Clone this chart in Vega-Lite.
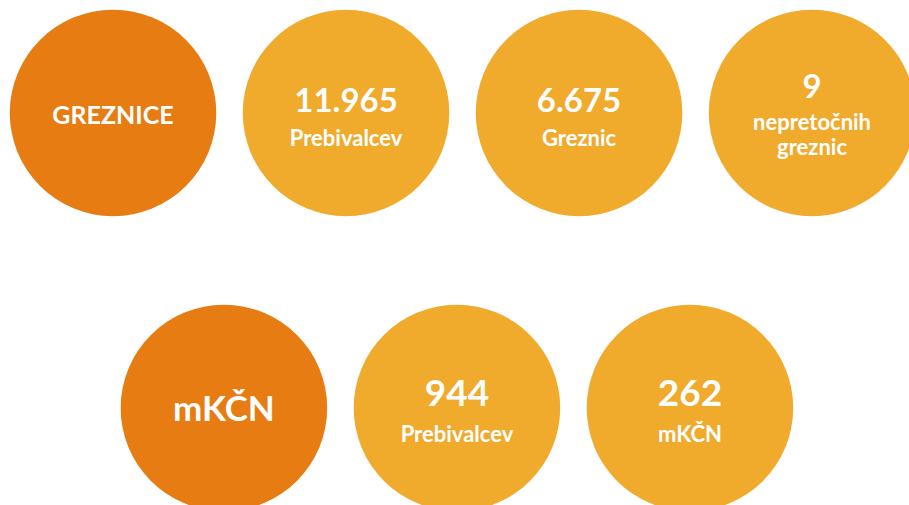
{
  "$schema": "https://vega.github.io/schema/vega-lite/v6.json",
  "width": 909,
  "height": 505,
  "autosize": {"type": "fit", "contains": "padding"},
  "padding": 0,
  "background": "white",
  "config": {"view": {"stroke": null}},
  "data": {
    "values": [
      {"col": 0, "row": 0, "kind": "naslov", "value": "GREZNICE", "label": ""},
      {"col": 1, "row": 0, "kind": "podatek", "value": "11.965", "label": "Prebivalcev"},
      {"col": 2, "row": 0, "kind": "podatek", "value": "6.675", "label": "Greznic"},
      {"col": 3, "row": 0, "kind": "podatek", "value": "9", "label": "nepretočnih\ngreznic"},
      {"col": 0.476, "row": 1, "kind": "naslov", "value": "mKČN", "label": ""},
      {"col": 1.476, "row": 1, "kind": "podatek", "value": "944", "label": "Prebivalcev"},
      {"col": 2.476, "row": 1, "kind": "podatek", "value": "262", "label": "mKČN"}
    ]
  },
  "encoding": {
    "x": {"field": "col", "type": "quantitative", "scale": {"domain": [-0.485, 3.416], "nice": false, "zero": false}, "axis": null},
    "y": {"field": "row", "type": "quantitative", "scale": {"domain": [-0.383, 1.329], "nice": false, "zero": false, "reverse": true}, "axis": null}
  },
  "layer": [
    {
      "mark": {"type": "circle", "size": 42650, "opacity": 1, "clip": true},
      "encoding": {
        "color": {"field": "kind", "type": "nominal", "scale": {"domain": ["naslov", "podatek"], "range": ["#E67C12", "#F0AA2C"]}, "legend": null}
      }
    },
    {
      "transform": [{"filter": "datum.kind == 'naslov' && datum.row == 0"}],
      "mark": {"type": "text", "font": "Lato", "fontWeight": "bold", "fontSize": 25, "color": "white", "baseline": "alphabetic", "dy": 11},
      "encoding": {"text": {"field": "value"}}
    },
    {
      "transform": [{"filter": "datum.kind == 'naslov' && datum.row == 1"}],
      "mark": {"type": "text", "font": "Lato", "fontWeight": "bold", "fontSize": 35, "color": "white", "baseline": "alphabetic", "dy": 13},
      "encoding": {"text": {"field": "value"}}
    },
    {
      "transform": [{"filter": "datum.kind == 'podatek' && datum.row == 0 && indexof(datum.label, '\\n') < 0"}],
      "mark": {"type": "text", "font": "Lato", "fontWeight": "bold", "fontSize": 33, "color": "white", "baseline": "alphabetic", "dy": -1},
      "encoding": {"text": {"field": "value"}}
    },
    {
      "transform": [{"filter": "datum.kind == 'podatek' && datum.row == 0 && indexof(datum.label, '\\n') < 0"}],
      "mark": {"type": "text", "font": "Lato", "fontWeight": "bold", "fontSize": 22, "color": "white", "baseline": "alphabetic", "dy": 33},
      "encoding": {"text": {"field": "label"}}
    },
    {
      "transform": [{"filter": "datum.kind == 'podatek' && indexof(datum.label, '\\n') >= 0"}],
      "mark": {"type": "text", "font": "Lato", "fontWeight": "bold", "fontSize": 33, "color": "white", "baseline": "alphabetic", "dy": -15},
      "encoding": {"text": {"field": "value"}}
    },
    {
      "transform": [{"filter": "datum.kind == 'podatek' && indexof(datum.label, '\\n') >= 0"}],
      "mark": {"type": "text", "font": "Lato", "fontWeight": "bold", "fontSize": 22, "color": "white", "baseline": "alphabetic", "dy": 17, "lineHeight": 25, "lineBreak": "\n"},
      "encoding": {"text": {"field": "label"}}
    },
    {
      "transform": [{"filter": "datum.kind == 'podatek' && datum.row == 1"}],
      "mark": {"type": "text", "font": "Lato", "fontWeight": "bold", "fontSize": 37, "color": "white", "baseline": "alphabetic", "dy": -2},
      "encoding": {"text": {"field": "value"}}
    },
    {
      "transform": [{"filter": "datum.kind == 'podatek' && datum.row == 1"}],
      "mark": {"type": "text", "font": "Lato", "fontWeight": "bold", "fontSize": 22, "color": "white", "baseline": "alphabetic", "dy": 34},
      "encoding": {"text": {"field": "label"}}
    }
  ]
}
